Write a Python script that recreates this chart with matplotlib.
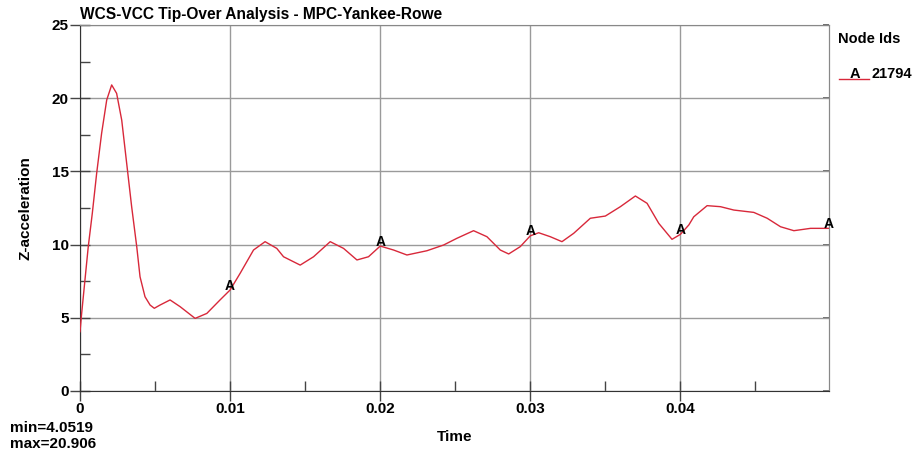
import matplotlib
matplotlib.use("Agg")
import matplotlib.pyplot as plt
from matplotlib.lines import Line2D
from matplotlib.ticker import MultipleLocator
import numpy as np

plt.rcParams['font.family'] = ['Liberation Sans', 'DejaVu Sans']
plt.rcParams['font.weight'] = 'bold'

title = "WCS-VCC Tip-Over Analysis - MPC-Yankee-Rowe"
node_id = "21794"
x_ticks = [0, 0.01, 0.02, 0.03, 0.04]
x_tick_labels = ["0", "0.01", "0.02", "0.03", "0.04"]
y_ticks = [0, 5, 10, 15, 20, 25]

time = [0.0, 0.00011, 0.00033, 0.00055, 0.00082, 0.00111, 0.00144, 0.00178, 0.00211,
        0.00244, 0.00278, 0.00311, 0.00344, 0.00378, 0.0040, 0.00433, 0.00467, 0.00495,
        0.00533, 0.0060, 0.00667, 0.00767, 0.00845, 0.00933, 0.0100, 0.01067, 0.01156,
        0.01233, 0.01311, 0.01356, 0.01467, 0.01556, 0.01667, 0.01756, 0.01845, 0.01922,
        0.0200, 0.02089, 0.02178, 0.02311, 0.02422, 0.02511, 0.02622, 0.02711, 0.0280,
        0.02856, 0.02933, 0.0300, 0.03056, 0.03133, 0.03211, 0.03289, 0.0340, 0.0350,
        0.0360, 0.0370, 0.03778, 0.03856, 0.03944, 0.0400, 0.04056, 0.04089, 0.04178,
        0.04267, 0.04356, 0.04489, 0.04578, 0.04667, 0.04756, 0.04867, 0.04990]
z_acc = [4.05, 5.3, 7.58, 9.86, 12.14, 14.87, 17.6, 19.88, 20.906,
         20.33, 18.5, 15.55, 12.6, 9.86, 7.8, 6.44, 5.87, 5.65,
         5.87, 6.22, 5.76, 4.96, 5.3, 6.22, 6.9, 8.04, 9.63,
         10.2, 9.74, 9.17, 8.6, 9.17, 10.2, 9.74, 8.95, 9.17,
         9.9, 9.63, 9.29, 9.58, 9.97, 10.43, 10.95, 10.54, 9.63,
         9.36, 9.86, 10.6, 10.81, 10.54, 10.2, 10.77, 11.8, 11.95,
         12.59, 13.32, 12.82, 11.45, 10.36, 10.7, 11.34, 11.9, 12.66,
         12.59, 12.36, 12.2, 11.8, 11.22, 10.95, 11.11, 11.11]
label_times = [0.01, 0.02, 0.03, 0.04, 0.0499]

fig = plt.figure(figsize=(9.17, 4.55), dpi=100)
ax = fig.add_axes([80/917, 1-391/455, 749/917, 366/455])

red = '#d8283a'
ax.plot(time, z_acc, color=red, lw=1.0, zorder=3, solid_joinstyle='round')

# "A" labels on the curve
for t in label_times:
    v = float(np.interp(t, time, z_acc))
    ax.text(t, v + 0.3, "A", ha='center', va='center', fontsize=10,
            fontweight='bold', color='black', clip_on=False, zorder=4)

ax.set_xlim(0, 0.0499)
ax.set_ylim(0, 25)
ax.set_xticks(x_ticks)
ax.set_xticklabels(x_tick_labels)
ax.set_yticks(y_ticks)
ax.xaxis.set_minor_locator(MultipleLocator(0.005))
ax.yaxis.set_minor_locator(MultipleLocator(2.5))

ax.grid(True, which='major', color='#9a9a9a', lw=1.0, zorder=0)
ax.tick_params(axis='both', which='major', direction='inout', length=14, width=1,
               color='#444444', labelsize=11, pad=1)
ax.tick_params(axis='both', which='minor', direction='in', length=7, width=1, color='#444444')
for lab in ax.get_xticklabels() + ax.get_yticklabels():
    lab.set_fontweight('bold')

sec = ax.secondary_yaxis('right')
sec.set_yticks(y_ticks)
sec.tick_params(direction='in', length=4, width=1.2, color='#555555', labelright=False)
sec.spines['right'].set_color('#888888')

for s in ['left', 'bottom']:
    ax.spines[s].set_color('#333333')
for s in ['right', 'top']:
    ax.spines[s].set_color('#888888')

ax.set_xlabel("Time", fontsize=11, fontweight='bold', labelpad=10)
ax.set_ylabel("Z-acceleration", fontsize=11, fontweight='bold', labelpad=14)

fig.text(80/917, 1-19/455, title, ha='left', va='baseline', fontsize=11.2, fontweight='bold')
fig.text(10/917, 1-432/455, "min=4.0519", ha='left', va='baseline', fontsize=11, fontweight='bold')
fig.text(10/917, 1-448/455, "max=20.906", ha='left', va='baseline', fontsize=11, fontweight='bold')

# legend
fig.text(838/917, 1-43/455, "Node Ids", ha='left', va='baseline', fontsize=10.5, fontweight='bold')
fig.add_artist(Line2D([839/917, 869/917], [1-79/455, 1-79/455], color=red, lw=1.0,
                      transform=fig.transFigure))
fig.text(855/917, 1-78/455, "A", ha='center', va='baseline', fontsize=10.5, fontweight='bold')
fig.text(871/917, 1-78/455, node_id, ha='left', va='baseline', fontsize=10.5, fontweight='bold')

fig.savefig("out.png", dpi=100)
